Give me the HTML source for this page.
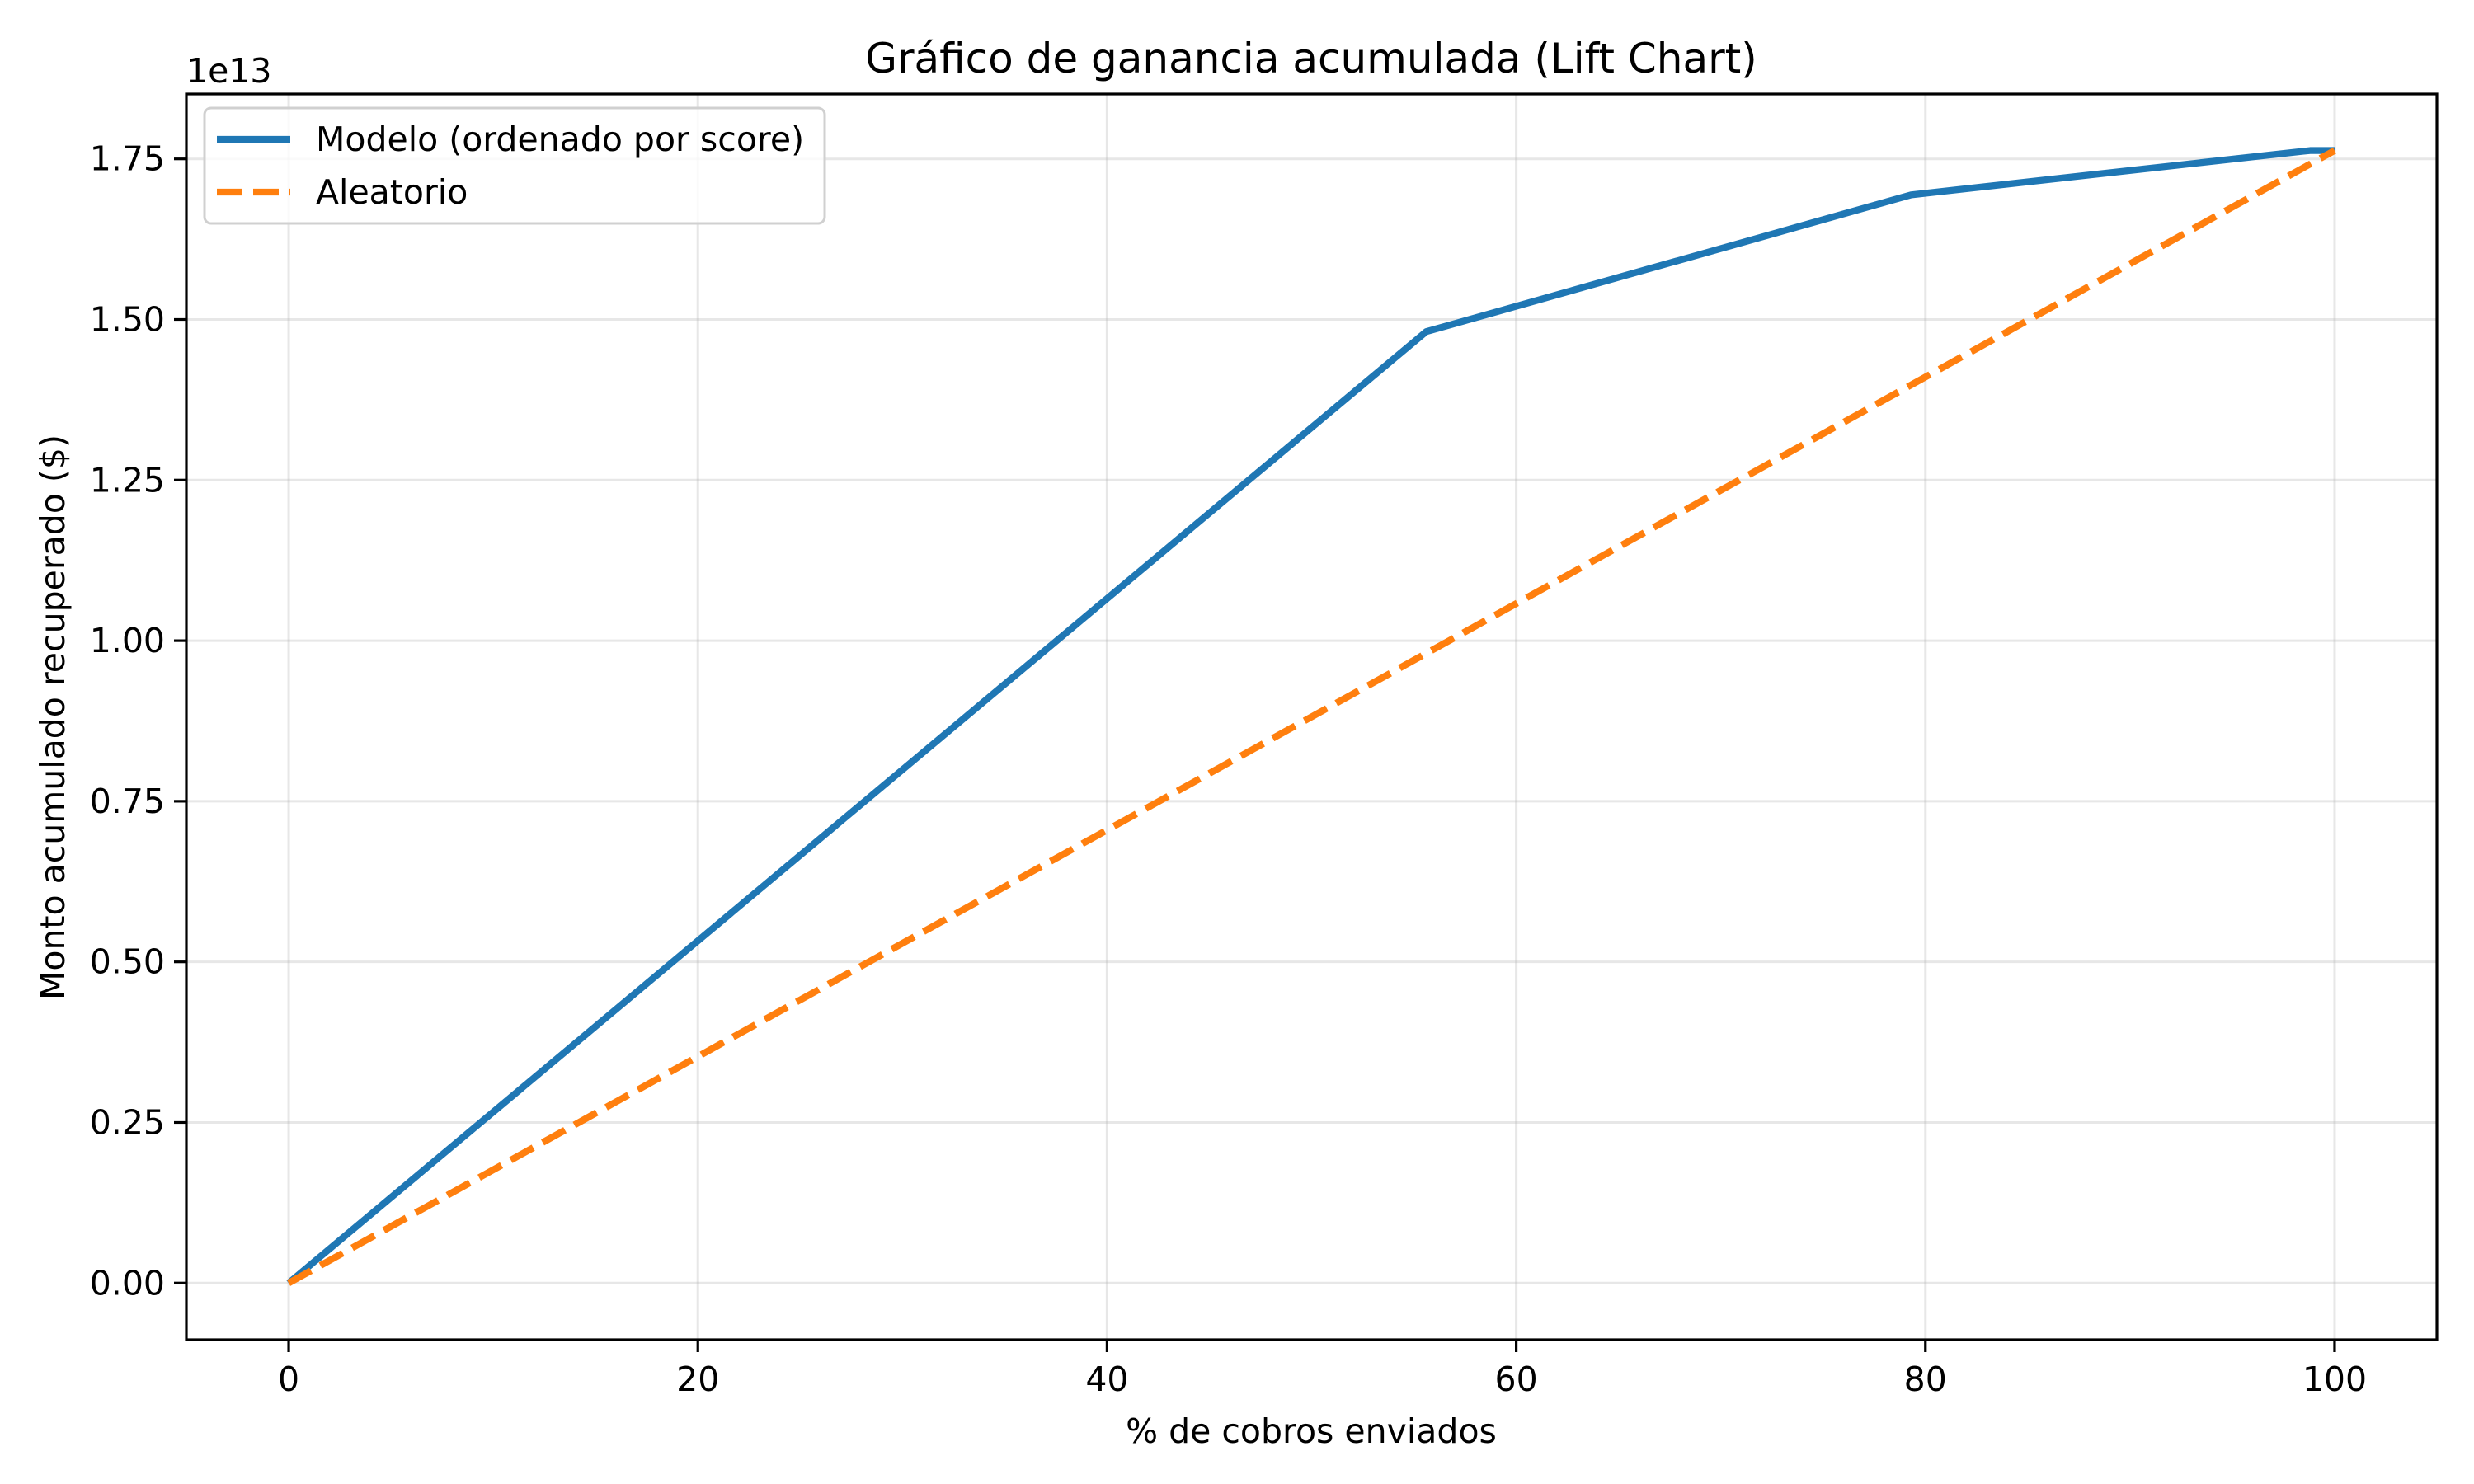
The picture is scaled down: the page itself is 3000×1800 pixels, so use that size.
<!DOCTYPE html>
<html><head><meta charset="utf-8"><style>
html,body{margin:0;padding:0;background:#fff;}
svg{display:block;font-family:"DejaVu Sans","Liberation Sans",sans-serif;}
</style></head><body>
<svg id="chart" width="3000" height="1800" viewBox="0 0 3000 1800">
<rect width="3000" height="1800" fill="#fff"/>
<g id="grid"></g>
<g id="series"></g>
<rect x="226" y="114" width="2729" height="1511" fill="none" stroke="#000" stroke-width="3.2"/>
<g id="ticks"></g>
<text x="1590" y="88" text-anchor="middle" font-size="50">Gráfico de ganancia acumulada (Lift Chart)</text>
<text x="226" y="100" font-size="41">1e13</text>
<text x="1590" y="1750" text-anchor="middle" font-size="41">% de cobros enviados</text>
<text transform="translate(78,870) rotate(-90)" text-anchor="middle" font-size="41">Monto acumulado recuperado ($)</text>
<g>
<rect x="248" y="131" width="752" height="140" rx="8" fill="#fff" fill-opacity="0.8" stroke="#d0d0d0" stroke-width="3"/>
<line x1="263" y1="169" x2="352" y2="169" stroke="#1f77b4" stroke-width="8.3"/>
<text x="383" y="183" font-size="41">Modelo (ordenado por score)</text>
<line x1="263" y1="233" x2="352" y2="233" stroke="#ff7f0e" stroke-width="8.3" stroke-dasharray="31 13"/>
<text x="383" y="247" font-size="41">Aleatorio</text>
</g>
</svg>
<script>
const modelX = [0, 55.6, 79.3, 98.8, 100];
const modelY = [0, 1.481, 1.694, 1.763, 1.763];
const randomX = [0, 100];
const randomY = [0, 1.763];
const xTicks = [0, 20, 40, 60, 80, 100];
const xTickLabels = ["0", "20", "40", "60", "80", "100"];
const yTicks = [0, 0.25, 0.5, 0.75, 1.0, 1.25, 1.5, 1.75];
const yTickLabels = ["0.00", "0.25", "0.50", "0.75", "1.00", "1.25", "1.50", "1.75"];

const NS = "http://www.w3.org/2000/svg";
const xMin = -5, xMax = 105, yMin = -0.0882, yMax = 1.851;
const L = 226, R = 2955, T = 114, B = 1625;
function sx(v){ return L + (v - xMin) / (xMax - xMin) * (R - L); }
function sy(v){ return B - (v - yMin) / (yMax - yMin) * (B - T); }
function mk(tag, attrs, parent){ const e = document.createElementNS(NS, tag); for (const k in attrs) e.setAttribute(k, attrs[k]); parent.appendChild(e); return e; }

const grid = document.getElementById('grid');
const ticks = document.getElementById('ticks');
const series = document.getElementById('series');

xTicks.forEach((v, i) => {
  const g = mk('line', {x1: sx(v), x2: sx(v), y1: T, y2: B, stroke: '#b0b0b0', 'stroke-opacity': 0.3, 'stroke-width': 3}, grid);
  
  
  const t = mk('line', {x1: sx(v), x2: sx(v), y1: B, y2: B + 15, stroke: '#000', 'stroke-width': 3.2}, ticks);
  
  
  const lb = mk('text', {x: sx(v), y: B + 62, 'text-anchor': 'middle', 'font-size': 41}, ticks);
  lb.textContent = xTickLabels[i];
  
  
});
yTicks.forEach((v, i) => {
  const g = mk('line', {x1: L, x2: R, y1: sy(v), y2: sy(v), stroke: '#b0b0b0', 'stroke-opacity': 0.3, 'stroke-width': 3}, grid);
  
  
  const t = mk('line', {x1: L - 15, x2: L, y1: sy(v), y2: sy(v), stroke: '#000', 'stroke-width': 3.2}, ticks);
  
  
  const lb = mk('text', {x: L - 26, y: sy(v) + 14, 'text-anchor': 'end', 'font-size': 41}, ticks);
  lb.textContent = yTickLabels[i];
  
  
});

const modelPts = modelX.map((x, i) => sx(x) + ',' + sy(modelY[i])).join(' ');
const ml = mk('polyline', {points: modelPts, fill: 'none', stroke: '#1f77b4', 'stroke-width': 8.3, 'stroke-linejoin': 'round'}, series);



const randPts = randomX.map((x, i) => sx(x) + ',' + sy(randomY[i])).join(' ');
const rl = mk('polyline', {points: randPts, fill: 'none', stroke: '#ff7f0e', 'stroke-width': 8.3, 'stroke-dasharray': '31 13'}, series);


</script>
</body></html>
